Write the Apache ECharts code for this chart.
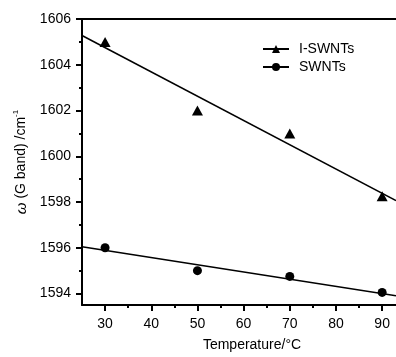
<!DOCTYPE html>
<html>
<head>
<meta charset="utf-8">
<script src="https://cdn.jsdelivr.net/npm/echarts@6/dist/echarts.min.js"></script>
<style>
  html, body { margin: 0; padding: 0; background: #fff; }
  #main { width: 396px; height: 357px; }
</style>
</head>
<body>
<div id="main"></div>
<script>
// temperatures (°C) and measured G band positions
var temps = [30, 50, 70, 90];
var iswnt = [1605.0, 1602.0, 1601.0, 1598.25];
var swnt = [1596.0, 1595.0, 1594.75, 1594.05];

// fitted straight lines, read at the left and right edge of the plot
var fitX = [25, 93];
var iswntFit = [1605.28, 1598.06];
var swntFit = [1596.05, 1593.9];

// tick values
var xMajor = [30, 40, 50, 60, 70, 80, 90];
var xMinor = [35, 45, 55, 65, 75, 85];
var yMajor = [1594, 1596, 1598, 1600, 1602, 1604, 1606];
var yMinor = [1595, 1597, 1599, 1601, 1603, 1605];

var font = 'Liberation Sans, Arial, sans-serif';

function pairs(xs, ys) {
  return xs.map(function (x, i) { return [x, ys[i]]; });
}

var chart = echarts.init(document.getElementById('main'), null, { renderer: 'canvas' });

var xBase = { type: 'value', min: 25, max: 93, splitLine: { show: false } };
var yBase = { type: 'value', min: 1593.5, max: 1606, splitLine: { show: false } };

var option = {
  backgroundColor: '#ffffff',
  animation: false,
  grid: { left: 82, right: 0, top: 19, bottom: 47 },
  legend: {
    left: 257,
    top: 37,
    orient: 'vertical',
    itemWidth: 26,
    itemHeight: 10,
    itemGap: 4,
    data: ['I-SWNTs', 'SWNTs'],
    textStyle: { fontFamily: font, fontSize: 14, color: '#000', padding: [0, 0, 0, 5] }
  },
  xAxis: [
    Object.assign({}, xBase, {
      position: 'bottom',
      name: 'Temperature/°C',
      nameLocation: 'middle',
      nameGap: 33,
      nameTextStyle: { fontFamily: font, fontSize: 14, color: '#000', padding: [0, 0, 0, 26] },
      axisLine: { lineStyle: { color: '#000', width: 2 } },
      axisTick: { show: true, inside: false, length: 6, customValues: xMajor, lineStyle: { color: '#000', width: 2 } },
      axisLabel: { customValues: xMajor, margin: 12, fontFamily: font, fontSize: 14, color: '#000' }
    }),
    Object.assign({}, xBase, {
      position: 'bottom',
      axisLine: { show: false },
      axisTick: { show: true, inside: false, length: 3, customValues: xMinor, lineStyle: { color: '#000', width: 2 } },
      axisLabel: { show: false }
    }),
    Object.assign({}, xBase, {
      position: 'top',
      axisLine: { lineStyle: { color: '#000', width: 2 } },
      axisTick: { show: false },
      axisLabel: { show: false }
    })
  ],
  yAxis: [
    Object.assign({}, yBase, {
      position: 'left',
      name: '{w|ω} (G band) /cm{sup|-1}',
      nameLocation: 'middle',
      nameGap: 46,
      nameRotate: 90,
      nameTextStyle: {
        fontFamily: font, fontSize: 14, color: '#000', padding: [0, 0, 0, 0],
        rich: {
          w: { fontFamily: font, fontSize: 15, fontStyle: 'italic', color: '#000' },
          sup: { fontFamily: font, fontSize: 8, color: '#000', verticalAlign: 'top', lineHeight: 20 }
        }
      },
      axisLine: { lineStyle: { color: '#000', width: 2 } },
      axisTick: { show: true, inside: false, length: 6, customValues: yMajor, lineStyle: { color: '#000', width: 2 } },
      axisLabel: {
        customValues: yMajor, margin: 11, fontFamily: font, fontSize: 14, color: '#000',
        formatter: function (v) { return String(v); }
      }
    }),
    Object.assign({}, yBase, {
      position: 'left',
      axisLine: { show: false },
      axisTick: { show: true, inside: false, length: 3, customValues: yMinor, lineStyle: { color: '#000', width: 2 } },
      axisLabel: { show: false }
    })
  ],
  series: [
    {
      name: 'I-SWNTs',
      type: 'line',
      data: pairs(fitX, iswntFit),
      symbol: 'triangle',
      symbolSize: 10,
      showSymbol: false,
      itemStyle: { color: '#000' },
      lineStyle: { color: '#000', width: 1.5 }
    },
    {
      name: 'SWNTs',
      type: 'line',
      data: pairs(fitX, swntFit),
      symbol: 'circle',
      symbolSize: 9,
      showSymbol: false,
      itemStyle: { color: '#000' },
      lineStyle: { color: '#000', width: 1.5 }
    },
    {
      name: 'I-SWNTs points',
      type: 'scatter',
      data: pairs(temps, iswnt),
      symbol: 'triangle',
      symbolSize: [11, 10],
      itemStyle: { color: '#000', opacity: 1 }
    },
    {
      name: 'SWNTs points',
      type: 'scatter',
      data: pairs(temps, swnt),
      symbol: 'circle',
      symbolSize: 9,
      itemStyle: { color: '#000', opacity: 1 }
    }
  ]
};

chart.setOption(option);
</script>
</body>
</html>
